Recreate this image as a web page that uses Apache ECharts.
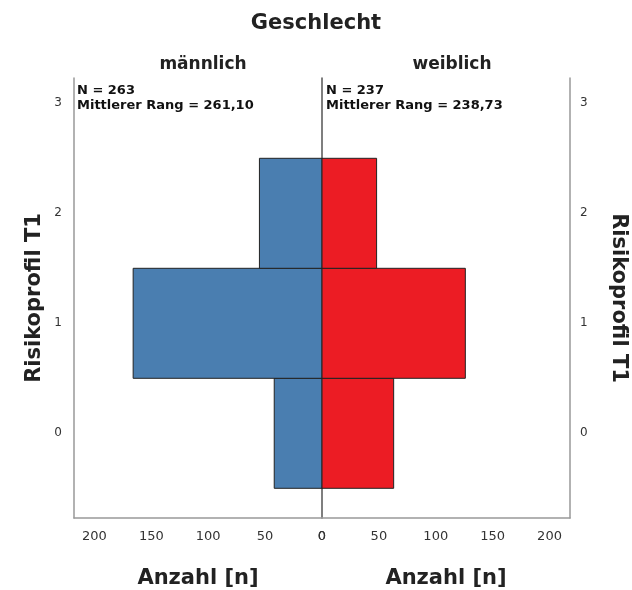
<!DOCTYPE html>
<html>
<head>
<meta charset="utf-8">
<script src="https://cdn.jsdelivr.net/npm/echarts@6/dist/echarts.min.js"></script>
<style>
  html, body { margin: 0; padding: 0; background: #fff; }
  #chart { width: 632px; height: 590px; }
</style>
</head>
<body>
<div id="chart"></div>
<script>
// Risikoprofil T1 categories (y positions)
const categories = [0, 1, 2];
const yTicks = [0, 1, 2, 3];
// counts per category
const maleCounts = [42, 166, 55];
const femaleCounts = [63, 126, 48];
const xTicks = [0, 50, 100, 150, 200];
const groupNames = ['männlich', 'weiblich'];
const groupStats = [
  ['N = 263', 'Mittlerer Rang = 261,10'],
  ['N = 237', 'Mittlerer Rang = 238,73']
];

const FONT = '"DejaVu Sans", sans-serif';
const X_MAX = 218;
const Y_MIN = -0.77, Y_MAX = 3.23;

const chart = echarts.init(document.getElementById('chart'), null, { renderer: 'canvas' });

function barItem(color) {
  return function (params, api) {
    const y = api.value(0);
    const n = api.value(1);
    const p0 = api.coord([0, y + 0.5]);
    const p1 = api.coord([n, y - 0.5]);
    const x = Math.min(p0[0], p1[0]);
    const w = Math.abs(p1[0] - p0[0]);
    return {
      type: 'rect',
      shape: { x: x, y: p0[1], width: w, height: p1[1] - p0[1] },
      style: { fill: color, stroke: '#222', lineWidth: 1 }
    };
  };
}

const xAxisCommon = {
  type: 'value', min: 0, max: X_MAX, interval: 50,
  axisLine: { show: true, onZero: false, lineStyle: { color: '#999', width: 1.5 } },
  axisTick: { show: false },
  splitLine: { show: false },
  axisLabel: {
    color: '#333', fontSize: 13, fontFamily: FONT, margin: 12,
    customValues: xTicks,
    formatter: v => String(v)
  },
  name: 'Anzahl [n]', nameLocation: 'middle', nameGap: 50,
  nameTextStyle: { fontSize: 21, fontWeight: 'bold', color: '#222', fontFamily: FONT }
};

const yAxisCommon = {
  type: 'value', min: Y_MIN, max: Y_MAX,
  splitLine: { show: false },
  axisTick: { show: false }
};

const option = {
  backgroundColor: '#fff',
  animation: false,
  title: [
    { text: 'Geschlecht', left: 'center', top: 8,
      textStyle: { fontSize: 21, fontWeight: 'bold', color: '#222', fontFamily: FONT } },
    { text: groupNames[0], left: 198, top: 51, textAlign: 'center',
      textStyle: { fontSize: 17, fontWeight: 'bold', color: '#222', fontFamily: FONT } },
    { text: groupNames[1], left: 447, top: 51, textAlign: 'center',
      textStyle: { fontSize: 17, fontWeight: 'bold', color: '#222', fontFamily: FONT } }
  ],
  graphic: [
    { type: 'text', left: 77, top: 83,
      style: { text: groupStats[0].join('\n'), fontSize: 13, fontWeight: 'bold', fill: '#111', fontFamily: FONT, lineHeight: 15 } },
    { type: 'text', left: 326, top: 83,
      style: { text: groupStats[1].join('\n'), fontSize: 13, fontWeight: 'bold', fill: '#111', fontFamily: FONT, lineHeight: 15 } }
  ],
  grid: [
    { left: 74, top: 78, width: 248, height: 440, outerBoundsMode: 'none', containLabel: false },
    { left: 322, top: 78, width: 248, height: 440, outerBoundsMode: 'none', containLabel: false }
  ],
  xAxis: [
    Object.assign({}, xAxisCommon, { gridIndex: 0, inverse: true }),
    Object.assign({}, xAxisCommon, { gridIndex: 1 })
  ],
  yAxis: [
    Object.assign({}, yAxisCommon, {
      gridIndex: 0, position: 'left',
      axisLine: { show: true, onZero: false, lineStyle: { color: '#999', width: 1.5 } },
      axisLabel: { color: '#333', fontSize: 12, fontFamily: FONT, margin: 12,
        customValues: yTicks, formatter: v => String(v) },
      name: 'Risikoprofil T1', nameLocation: 'middle', nameGap: 29, nameRotate: 90,
      nameTextStyle: { fontSize: 21, fontWeight: 'bold', color: '#222', fontFamily: FONT }
    }),
    Object.assign({}, yAxisCommon, {
      gridIndex: 1, position: 'right',
      axisLine: { show: true, onZero: false, lineStyle: { color: '#999', width: 1.5 } },
      axisLabel: { color: '#333', fontSize: 12, fontFamily: FONT, margin: 10,
        customValues: yTicks, formatter: v => String(v) },
      name: 'Risikoprofil T1', nameLocation: 'middle', nameGap: 38, nameRotate: -90,
      nameTextStyle: { fontSize: 21, fontWeight: 'bold', color: '#222', fontFamily: FONT }
    }),
    // centre divider between the two halves
    Object.assign({}, yAxisCommon, {
      gridIndex: 1, position: 'left',
      axisLine: { show: true, onZero: false, lineStyle: { color: '#555', width: 1.5 } },
      axisLabel: { show: false }
    })
  ],
  series: [
    {
      type: 'custom', xAxisIndex: 0, yAxisIndex: 0,
      encode: { x: 1, y: 0 },
      data: categories.map((c, i) => [c, maleCounts[i]]),
      renderItem: barItem('#4a7eb0'), z: 2
    },
    {
      type: 'custom', xAxisIndex: 1, yAxisIndex: 1,
      encode: { x: 1, y: 0 },
      data: categories.map((c, i) => [c, femaleCounts[i]]),
      renderItem: barItem('#ec1c24'), z: 2
    }
  ]
};

chart.setOption(option);
</script>
</body>
</html>
